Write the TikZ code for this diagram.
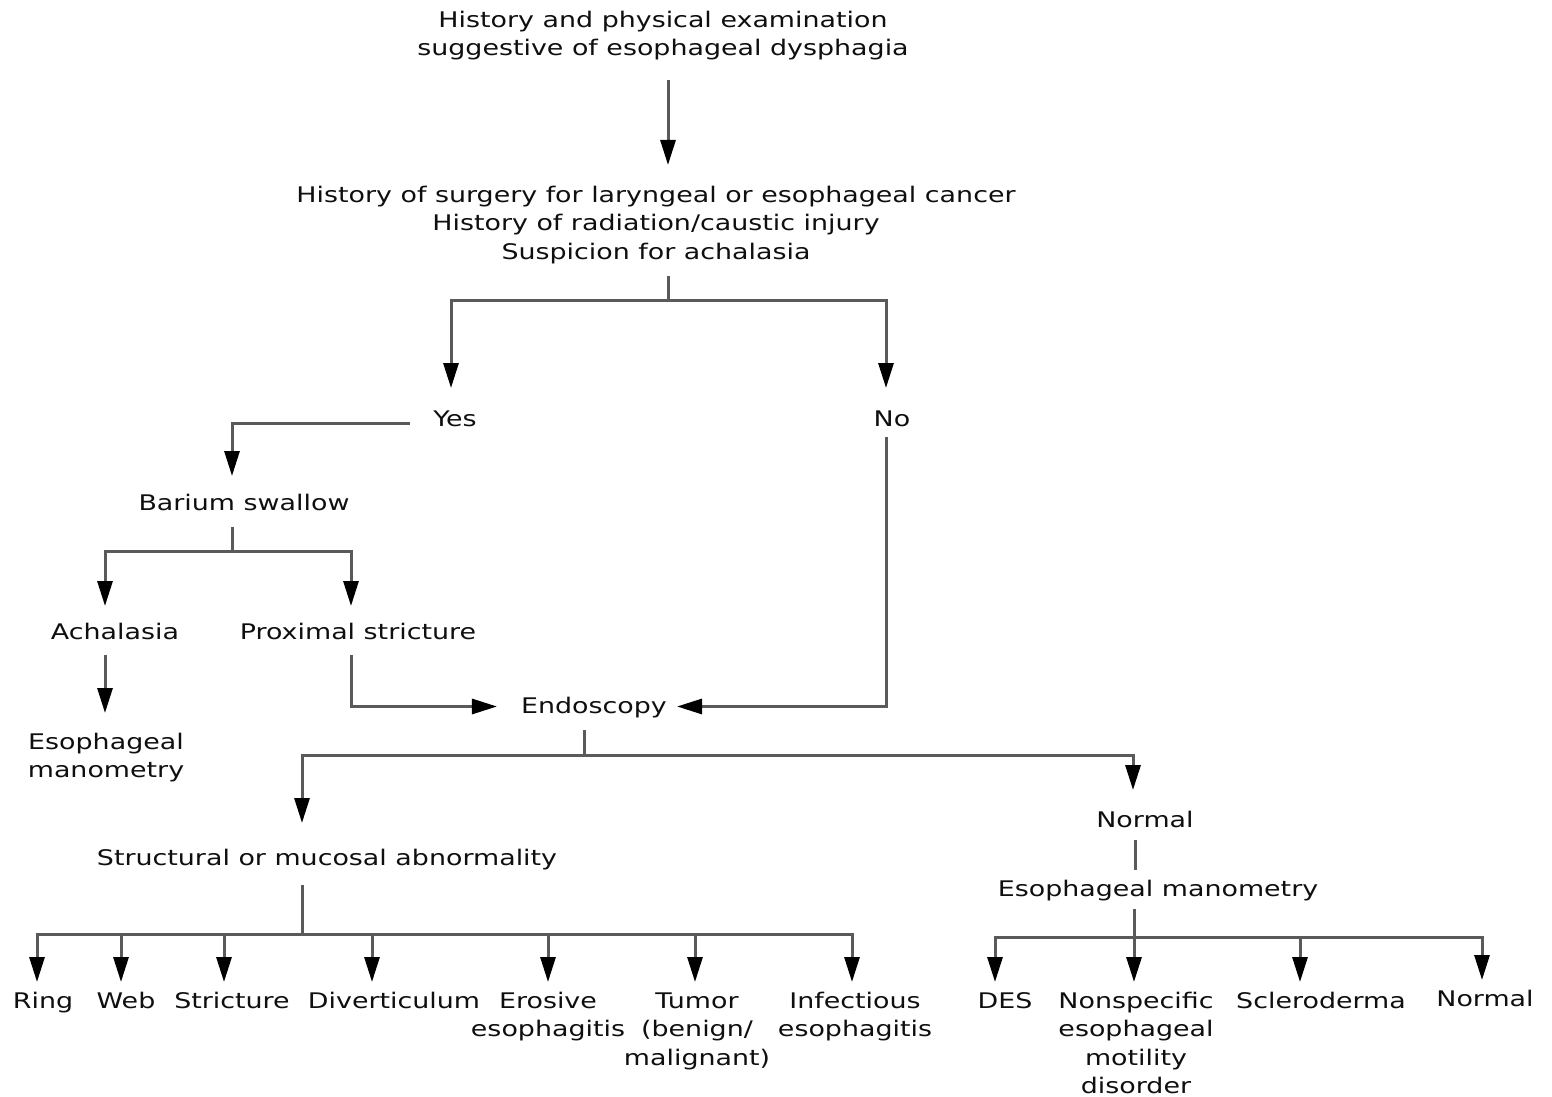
\documentclass[tikz,border=0pt]{standalone}
\usepackage{fontspec}
\newfontfamily\dfont{DejaVu Sans}[FakeStretch=1.25]
\usetikzlibrary{arrows.meta,calc}
\definecolor{lncol}{RGB}{90,90,90}
\definecolor{txcol}{RGB}{15,15,15}
\newcommand{\mys}{\rule[-0.25em]{0pt}{1.05em}}
\tikzset{
  lbl/.style={anchor=north, inner sep=0pt, align=center, text=txcol,
    font=\dfont\fontsize{21.5}{28.5}\selectfont},
  ln/.style={draw=lncol, line width=3pt},
  arr/.style={ln, -{Triangle[length=25pt,width=15pt,black]}}
}
\begin{document}
\begin{tikzpicture}[x=1pt,y=-1pt]
\useasboundingbox (0,0) rectangle (1552,1097);
\fill[white] (0,0) rectangle (1552,1097);

% nodes
\node[lbl] (top) at (663,10) {\mys History and physical examination\\suggestive of esophageal dysphagia\mys};
\node[lbl] (hist) at (656,185) {\mys History of surgery for laryngeal or esophageal cancer\\History of radiation/caustic injury\\Suspicion for achalasia\mys};
\node[lbl] (yes) at (455,409) {\mys Yes};
\node[lbl] (no) at (892,409) {\mys No};
\node[lbl] (bar) at (244,493) {\mys Barium swallow};
\node[lbl] (ach) at (115,622) {\mys Achalasia};
\node[lbl] (prox) at (358,622) {\mys Proximal stricture};
\node[lbl] (eman) at (106,732) {\mys Esophageal\\manometry\mys};
\node[lbl] (endo) at (594,696) {\mys Endoscopy};
\node[lbl] (struct) at (327,848) {\mys Structural or mucosal abnormality};
\node[lbl] (norm) at (1145,810) {\mys Normal};
\node[lbl] (man) at (1158,879) {\mys Esophageal manometry};
\node[lbl] (ring) at (43,991) {\mys Ring};
\node[lbl] (web) at (126,991) {\mys Web};
\node[lbl] (strict) at (232,991) {\mys Stricture};
\node[lbl] (div) at (394,991) {\mys Diverticulum};
\node[lbl] (eros) at (548,991) {\mys Erosive\\esophagitis\mys};
\node[lbl] (tumor) at (697,991) {\mys Tumor\\(benign/\\malignant)\mys};
\node[lbl] (inf) at (855,991) {\mys Infectious\\esophagitis\mys};
\node[lbl] (des) at (1005,991) {\mys DES};
\node[lbl] (nonsp) at (1136,991) {\mys Nonspecific\\esophageal\\motility\\disorder\mys};
\node[lbl] (scler) at (1321,991) {\mys Scleroderma};
\node[lbl] (norm2) at (1485,989) {\mys Normal};

% connectors
\draw[arr] ($(top.south)+(5,18.4)$) -- ($(hist.north)+(12,-20)$);

\coordinate (hj) at ($(hist.south)+(12,35.4)$);
\draw[ln] ($(hist.south)+(12,11.4)$) -- (hj);
\draw[arr] (hj) -| ($(yes.north)+(-4,-21)$);
\draw[arr] (hj) -| ($(no.north)+(-6,-21)$);

\draw[arr] ($(yes.west)+(-23.5,2.7)$) -| ($(bar.north)+(-12,-17)$);

\coordinate (bj) at ($(bar.south)+(-12,35.4)$);
\draw[ln] ($(bar.south)+(-12,11.4)$) -- (bj);
\draw[arr] (bj) -| ($(ach.north)+(-10,-16)$);
\draw[arr] (bj) -| ($(prox.north)+(-7,-16)$);

\draw[arr] ($(ach.south)+(-10,10.4)$) -- ($(eman.north)+(-1,-19)$);

\draw[arr] ($(prox.south)+(-7,10.4)$) |- ($(endo.west)+(-24,-1)$);
\draw[arr] ($(no.south)+(-6,5.4)$) |- ($(endo.east)+(10,-1)$);

\coordinate (ej) at ($(endo.south)+(-10,36.4)$);
\draw[ln] ($(endo.south)+(-10,11.4)$) -- (ej);
\draw[arr] (ej) -| ($(struct.north)+(-25,-25)$);
\draw[arr] (ej) -| ($(norm.north)+(-12,-20)$);

\draw[ln] ($(norm.south)+(-10,7.4)$) -- ($(man.north)+(-23,-9)$);

\coordinate (sj) at ($(struct.south)+(-25,63.4)$);
\draw[ln] ($(struct.south)+(-25,14.4)$) -- (sj);
\draw[arr] (sj) -| ($(ring.north)+(-6,-9)$);
\draw[arr] (sj) -| ($(web.north)+(-5,-9)$);
\draw[arr] (sj) -| ($(strict.north)+(-8,-9)$);
\draw[arr] (sj) -| ($(div.north)+(-22,-9)$);
\draw[arr] (sj) -| ($(eros.north)+(0,-9)$);
\draw[arr] (sj) -| ($(tumor.north)+(-2,-9)$);
\draw[arr] (sj) -| ($(inf.north)+(-3,-9)$);

\coordinate (mj) at ($(man.south)+(-24,35.4)$);
\draw[arr] ($(man.south)+(-24,7.4)$) -- ($(nonsp.north)+(-2,-9)$);
\draw[arr] (mj) -| ($(des.north)+(-10,-9)$);
\draw[arr] (mj) -| ($(scler.north)+(-21,-9)$);
\draw[arr] (mj) -| ($(norm2.north)+(-3,-9)$);
\end{tikzpicture}
\end{document}
